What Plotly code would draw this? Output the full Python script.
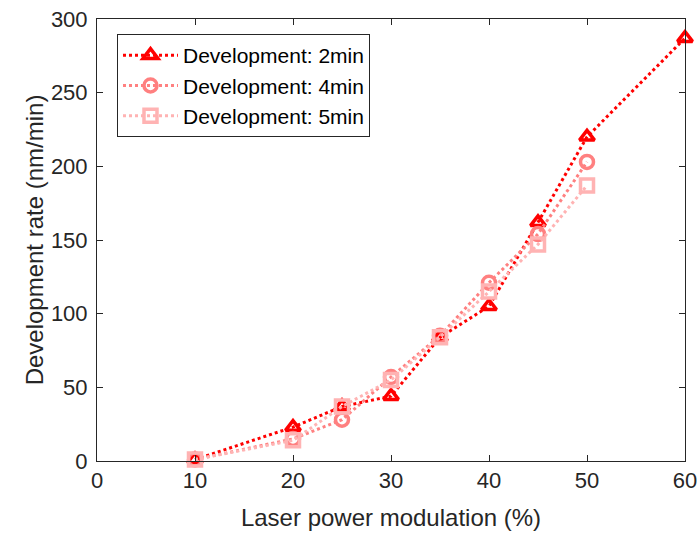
import plotly.graph_objects as go

power = [10, 20, 25, 30, 35, 40, 45, 50, 60]
rate_2min = [1, 23, 37, 44, 84, 105, 162, 220, 287]

power_b = [10, 20, 25, 30, 35, 40, 45, 50]
rate_4min = [1, 15, 28, 57, 85, 121, 154, 203]
rate_5min = [1, 14, 37, 55, 84, 115, 147, 187]

series = [
    ("Development: 2min", power, rate_2min, "#ff0000", "triangle-up-open"),
    ("Development: 4min", power_b, rate_4min, "#ff8080", "circle-open"),
    ("Development: 5min", power_b, rate_5min, "#ffb3b3", "square-open"),
]

FONT = "Liberation Sans, Arial"

fig = go.Figure()
for name, x, y, color, sym in series:
    fig.add_trace(go.Scatter(
        name=name, x=x, y=y, mode="lines+markers",
        line=dict(color=color, width=3, dash="dot"),
        marker=dict(symbol=sym, size=13, color=color, line=dict(color=color, width=3.5)),
        cliponaxis=False,
    ))

axis_common = dict(
    showline=True, linecolor="#262626", linewidth=1, mirror="ticks",
    ticks="inside", ticklen=6, tickcolor="#262626", showgrid=False, zeroline=False,
    tickfont=dict(family=FONT, size=22, color="#262626"), automargin=False,
    ticklabeloverflow="allow",
)
fig.update_xaxes(
    range=[0, 60], dtick=10, **axis_common,
    title=dict(text="Laser power modulation (%)", font=dict(family=FONT, size=24, color="#262626"), standoff=16),
)
fig.update_yaxes(
    range=[0, 300], dtick=50, ticklabelstandoff=4, **axis_common,
    title=dict(text="Development rate (nm/min)", font=dict(family=FONT, size=24, color="#262626"), standoff=0),
)
fig.update_layout(
    width=699, height=541,
    margin=dict(l=97, r=14, t=19, b=80),
    paper_bgcolor="white", plot_bgcolor="white",
    legend=dict(
        x=0.034, y=0.966, xanchor="left", yanchor="top",
        bordercolor="#262626", borderwidth=1, bgcolor="white",
        font=dict(family=FONT, size=21, color="black"),
        tracegroupgap=0, itemwidth=55,
    ),
)
# drop the default 8px page margin so the figure fills the window
fig.write_html("out.html", config={"displayModeBar": False},
               post_script="document.body.style.margin='0';")
